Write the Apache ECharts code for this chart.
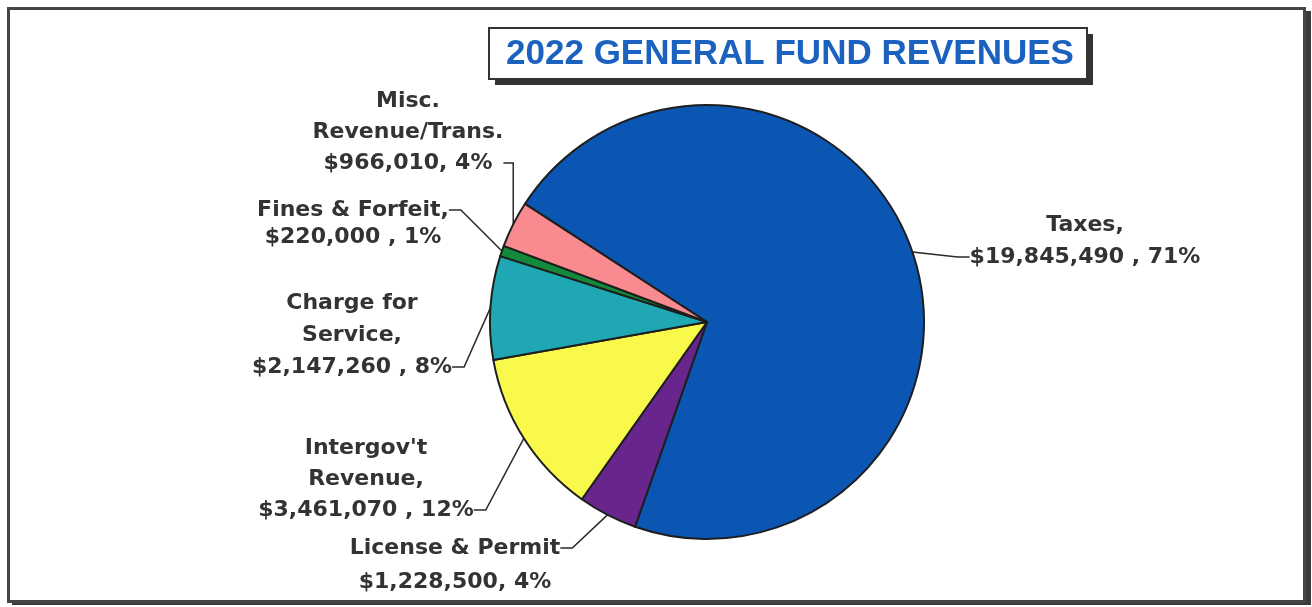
<!DOCTYPE html>
<html>
<head>
<meta charset="utf-8">
<script src="https://cdn.jsdelivr.net/npm/echarts@6/dist/echarts.min.js"></script>
<style>
  html, body { margin: 0; padding: 0; background: #fff; }
  #chart { width: 1312px; height: 607px; }
</style>
</head>
<body>
<div id="chart"></div>
<script>
// 2022 general fund revenues, in pie order (clockwise from Taxes)
const categories = ['Taxes', 'License & Permit', "Intergov't Revenue", 'Charge for Service', 'Fines & Forfeit', 'Misc. Revenue/Trans.'];
const amounts = [19845490, 1228500, 3461070, 2147260, 220000, 966010];
const percents = [71, 4, 12, 8, 1, 4];
// how each category is written in its label
const nameLines = [['Taxes,'], ['License & Permit'], ["Intergov't", 'Revenue,'], ['Charge for', 'Service,'], ['Fines & Forfeit,'], ['Misc.', 'Revenue/Trans.']];
const separators = [' , ', ', ', ' , ', ' , ', ' , ', ', '];
const titleText = '2022 GENERAL FUND REVENUES';

// presentation
const sliceColors = ['#0b55b3', '#68258c', '#f9f94b', '#1fa8b3', '#12893b', '#f98a8f'];
// label block centre x, y of the line the leader attaches to, that line's index, line height
const labelPlacement = [
  [1085, 257, 1, 32],
  [455, 548, 0, 34],
  [366, 510, 2, 31],
  [352, 367, 2, 32],
  [353, 210, 0, 27],
  [408, 163, 2, 31]
];

function money(v) {
  return '$' + v.toLocaleString('en-US');
}

function labelText(i) {
  const lines = nameLines[i].slice();
  lines.push(money(amounts[i]) + separators[i] + percents[i] + '%');
  const at = labelPlacement[i][2];
  const above = at, below = lines.length - 1 - at;
  // pad with blank lines so the attaching line sits at the block's middle
  for (let k = 0; k < below - above; k++) lines.unshift('');
  for (let k = 0; k < above - below; k++) lines.push('');
  return lines.join('\n');
}

const seriesData = categories.map((name, i) => ({
  name: name,
  value: amounts[i],
  itemStyle: { color: sliceColors[i] },
  label: { lineHeight: labelPlacement[i][3] }
}));

const chart = echarts.init(document.getElementById('chart'), null, { renderer: 'canvas' });

chart.setOption({
  animation: false,
  backgroundColor: '#ffffff',
  graphic: [
    // outer frame with its drop shadow
    { type: 'rect', z: -20, shape: { x: 12, y: 11, width: 1299, height: 594 }, style: { fill: '#3a3a3a' } },
    { type: 'rect', z: -19, shape: { x: 8.5, y: 8.5, width: 1296, height: 593 }, style: { fill: '#ffffff', stroke: '#454545', lineWidth: 3 } },
    // title box
    { type: 'rect', z: 20, shape: { x: 495, y: 34, width: 598, height: 51 }, style: { fill: '#333333' } },
    { type: 'rect', z: 21, shape: { x: 489, y: 28, width: 598, height: 51 }, style: { fill: '#ffffff', stroke: '#333333', lineWidth: 2 } },
    { type: 'text', z: 22, x: 790, y: 54,
      style: { text: titleText, fill: '#1b62c0', font: 'bold 35px "Liberation Sans", Arial, sans-serif', textAlign: 'center', textVerticalAlign: 'middle' } }
  ],
  series: [{
    type: 'pie',
    center: [707, 322],
    radius: 217,
    startAngle: 147,
    clockwise: true,
    avoidLabelOverlap: false,
    itemStyle: { borderColor: '#1e1e1e', borderWidth: 2 },
    emphasis: { disabled: true },
    label: {
      show: true,
      position: 'outside',
      color: '#333333',
      fontFamily: '"DejaVu Sans", sans-serif',
      fontWeight: 'bold',
      fontSize: 22,
      formatter: p => labelText(p.dataIndex)
    },
    labelLine: {
      show: true,
      length: 10,
      length2: 12,
      lineStyle: { color: '#2a2a2a', width: 1.5 }
    },
    labelLayout: p => {
      const pl = labelPlacement[p.dataIndex];
      return { x: pl[0], y: pl[1], align: 'center', verticalAlign: 'middle' };
    },
    data: seriesData
  }]
});
</script>
</body>
</html>
